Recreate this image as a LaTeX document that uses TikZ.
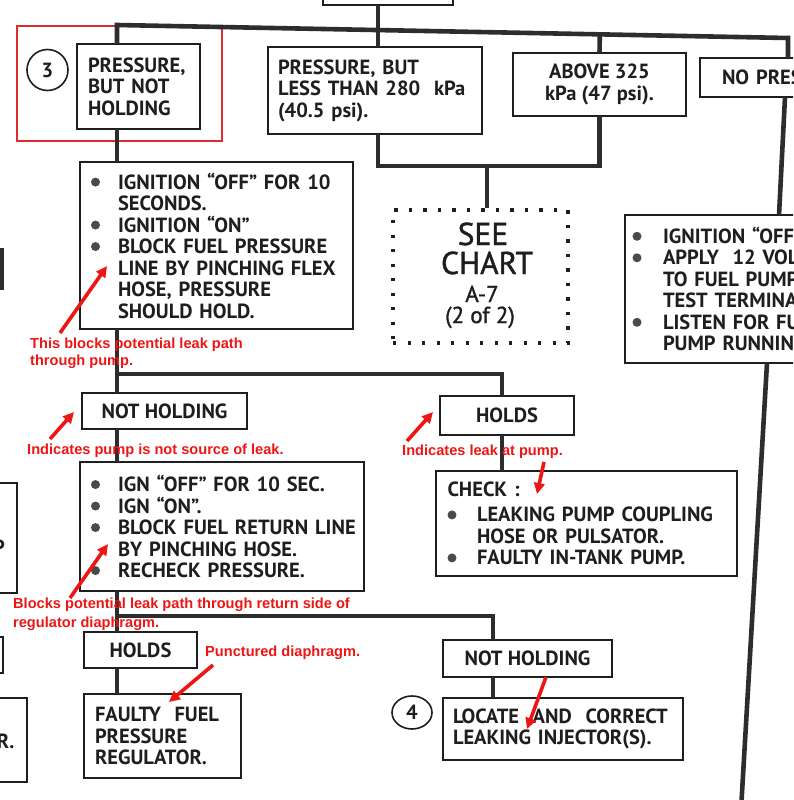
\documentclass[tikz,border=0pt]{standalone}
\usepackage{fontspec}
\setmainfont{PT Sans}
\newfontfamily\annfont{Liberation Sans}
\newfontfamily\medfont[FakeBold=1.3]{PT Sans}
\usetikzlibrary{arrows.meta,calc,shapes.geometric}
\definecolor{ink}{HTML}{1E1E1E}
\definecolor{wirec}{HTML}{2D2D2D}
\definecolor{annred}{HTML}{EE1515}
\definecolor{framered}{HTML}{DF2B30}
\definecolor{bulgray}{HTML}{4B4B4B}
\newcommand\bxfont{\bfseries\fontsize{20.5}{21.5}\selectfont}
\newcommand\bul[1][27pt]{\makebox[#1][l]{\tikz[baseline=-7pt]\fill[bulgray] (4.5pt,0pt) circle[radius=4.5pt];}}
\newcommand\ind[1][27pt]{\hspace*{#1}}
\tikzset{
  box/.style={draw=ink, line width=1.8pt, fill=white, inner ysep=0pt, outer sep=0pt, align=left, font=\bxfont, text=ink},
  cbox/.style={box, align=center, inner xsep=0pt},
  dotbox/.style={draw=ink, line width=3.2pt, dash pattern=on 3.2pt off 11.3pt, inner sep=0pt},
  seefont/.style={text=ink, inner sep=0pt, anchor=base},
  wire/.style={draw=wirec, line width=4.6pt},
  numc/.style={draw=ink, line width=1.6pt, font=\bxfont, text=ink, inner sep=0pt},
  ann/.style={text=annred, font=\annfont\bfseries\fontsize{14.6}{17}\selectfont, inner sep=0pt, anchor=base west},
  redarrow/.style={draw=annred, line width=3.6pt, -{Triangle[length=11pt,width=10.5pt]}},
  hilite/.style={draw=framered, line width=2.6pt, inner sep=0pt}
}
\begin{document}
\begin{tikzpicture}[x=1pt,y=-1pt]
\useasboundingbox (0,0) rectangle (793,800);
\fill[white] (0,0) rectangle (793,800);
\clip (0,0) rectangle (793,800);

% ---------- boxes ----------
\node[box, inner xsep=0pt, minimum width=130pt, minimum height=45pt] (topbox) at (388,-17.5) {};
\node[hilite, minimum width=205pt, minimum height=115pt] (hl) at (119.5,83.5) {};
\node[numc, circle, minimum size=41pt] (c3) at (47.5,70) {3};
\node[box, inner xsep=11pt, text width=101pt, minimum height=85pt] (pnh) at (138.5,86.5) {PRESSURE,\\BUT NOT\\HOLDING};
\node[box, inner xsep=10pt, text width=194pt, minimum height=87pt] (plt) at (375,90.5) {PRESSURE, BUT\\LESS THAN 280\ \ kPa\\(40.5 psi).};
\node[cbox, minimum width=173pt, minimum height=63pt] (above) at (599.5,84.5) {ABOVE 325\\kPa (47 psi).};
\node[box, inner xsep=22pt, text width=156pt, minimum height=39pt] (nopress) at (800,77.5) {NO PRESSURE};

\node[box, inner xsep=11pt, text width=251pt, minimum height=167pt] (ign1) at (216.5,245.5) {%
\bul IGNITION “OFF” FOR 10\\%
\ind SECONDS.\\%
\bul IGNITION “ON”\\%
\bul BLOCK FUEL PRESSURE\\%
\ind LINE BY PINCHING FLEX\\%
\ind HOSE, PRESSURE\\%
\ind SHOULD HOLD.};

\node[dotbox, minimum width=175pt, minimum height=133pt] (see) at (480.5,276.5) {};
\node[seefont, font=\medfont\fontsize{31.5}{31.5}\selectfont] (s1) at (483,245) {SEE};
\node[seefont, font=\medfont\fontsize{31.5}{31.5}\selectfont] (s2) at (487,274) {CHART};
\node[seefont, font=\medfont\fontsize{23}{23}\selectfont] (s3) at (482,302) {A-7};
\node[seefont, font=\medfont\fontsize{23}{23}\selectfont] (s4) at (480,323) {(2 of 2)};

\node[box, inner xsep=7.5pt, text width=285pt, minimum height=148pt] (rbox) at (775,289) {%
\bul[30.5pt]IGNITION “OFF”.\\%
\bul[30.5pt]APPLY\ \ 12 VOLTS\\%
\ind[30.5pt]TO FUEL PUMP\\%
\ind[30.5pt]TEST TERMINAL.\\%
\bul[30.5pt]LISTEN FOR FUEL\\%
\ind[30.5pt]PUMP RUNNING.};

\node[cbox, minimum width=165pt, minimum height=36pt] (nh1) at (164.5,411) {NOT HOLDING};
\node[cbox, minimum width=134pt, minimum height=39pt] (holds1) at (507,415.5) {HOLDS};

\node[box, inner xsep=11pt, text width=262pt, minimum height=129pt] (ign2) at (222,526.5) {%
\bul IGN “OFF” FOR 10 SEC.\\%
\bul IGN “ON”.\\%
\bul\mbox{BLOCK\hspace{7pt}FUEL RETURN LINE}\\%
\ind BY PINCHING HOSE.\\%
\bul RECHECK PRESSURE.};

\node[box, inner xsep=11.5pt, text width=278pt, minimum height=105pt] (check) at (586.5,523.5) {%
CHECK :\\[4pt]%
\bul[29.5pt]LEAKING PUMP COUPLING\\%
\ind[29.5pt]HOSE OR PULSATOR.\\%
\bul[29.5pt]FAULTY IN-TANK PUMP.};

\node[cbox, minimum width=113pt, minimum height=36pt] (holds2) at (140.5,650) {HOLDS};
\node[box, inner xsep=11pt, text width=135pt, minimum height=84pt] (faulty) at (162.5,736) {FAULTY\ \ FUEL\\PRESSURE\\REGULATOR.};
\node[cbox, minimum width=169pt, minimum height=37pt] (nh2) at (527.5,658.5) {NOT HOLDING};
\node[numc, ellipse, minimum width=40pt, minimum height=33pt] (c4) at (412,712.5) {4};
\node[box, inner xsep=10pt, text width=220pt, minimum height=62pt] (locate) at (563,729) {LOCATE\ \ AND\ \ CORRECT\\LEAKING INJECTOR(S).};

% partial boxes at the left edge
\node[box, minimum width=217pt, minimum height=110pt] (lb2) at (-91.5,538) {};
\node[box, minimum width=200pt, minimum height=36pt] (lb3) at (-97,655) {};
\node[box, minimum width=200pt, minimum height=84pt] (lb4) at (-73,740) {};
\node[font=\bxfont, text=ink, inner sep=0pt, anchor=base west] (lb2t) at (-7,554) {P};
\node[font=\bxfont, text=ink, inner sep=0pt, anchor=base east] (lb4t) at (14.5,748) {R.};

% ---------- connectors ----------
\coordinate (tbx) at (378,5);
\coordinate (busL) at (117,25);
\coordinate (busR) at (788,38);
\coordinate (xL) at (117,0);
\coordinate (hj) at (487,166);
\coordinate (b2) at (117,374);
\coordinate (b2r) at (502,374);
\coordinate (b3) at (117,616);
\coordinate (b3r) at (493,616);
\coordinate (r1) at (785,0);
\coordinate (r2) at (779,0);
\coordinate (r3) at (767,0);
\coordinate (rend) at (741,810);
\coordinate (lm1) at (1.5,248);
\coordinate (lm2) at (1.5,290);

\draw[wire] (tbx) -- (tbx |- plt.north);
\draw[wire] (pnh.north -| busL) -- (busL) -- (busR) -- (busR |- nopress.north);
\draw[wire] ($(busL)!(above.north)!(busR)$) -- (above.north);
\draw[wire] (tbx |- plt.south) |- (hj) -| (above.south);
\draw[wire] (hj) -- (hj |- see.north);
\draw[wire] (pnh.south -| xL) -- (ign1.north -| xL);
\draw[wire] (ign1.south -| xL) -- (nh1.north -| xL);
\draw[wire] (b2) -- (b2r) -- (b2r |- holds1.north);
\draw[wire] (holds1.south -| b2r) -- (check.north -| b2r);
\draw[wire] (nh1.south -| xL) -- (ign2.north -| xL);
\draw[wire] (ign2.south -| xL) -- (holds2.north -| xL);
\draw[wire] (b3) -- (b3r) -- (b3r |- nh2.north);
\draw[wire] (nh2.south -| b3r) -- (locate.north -| b3r);
\draw[wire] (holds2.south -| xL) -- (faulty.north -| xL);
\draw[wire] (nopress.south -| r1) -- (rbox.north -| r2);
\draw[wire] (rbox.south -| r3) -- (rend);
\draw[wire, line width=4pt] (lm1) -- (lm2);

% ---------- red annotations ----------
\node[ann] (t1) at (30,348) {This blocks potential leak path};
\node[ann] (t1b) at (30,365) {through pump.};
\node[ann] (t2) at (27,454) {Indicates pump is not source of leak.};
\node[ann] (t3) at (402,455) {Indicates leak at pump.};
\node[ann] (t4) at (13,608) {Blocks potential leak path through return side of};
\node[ann] (t4b) at (13,627) {regulator diaphragm.};
\node[ann] (t5) at (205,656) {Punctured diaphragm.};

\coordinate (a1s) at (60,333); \coordinate (a1e) at (107,266);
\coordinate (a2s) at (50,439); \coordinate (a2e) at (74,412);
\coordinate (a3s) at (407,441); \coordinate (a3e) at (433,412);
\coordinate (a4s) at (544,462); \coordinate (a4e) at (537,494);
\coordinate (a5s) at (70,598); \coordinate (a5e) at (108,544);
\coordinate (a6s) at (213,665); \coordinate (a6e) at (169,702);
\coordinate (a7s) at (546,677); \coordinate (a7e) at (527,729);
\draw[redarrow] (a1s) -- (a1e);
\draw[redarrow] (a2s) -- (a2e);
\draw[redarrow] (a3s) -- (a3e);
\draw[redarrow] (a4s) -- (a4e);
\draw[redarrow] (a5s) -- (a5e);
\draw[redarrow] (a6s) -- (a6e);
\draw[redarrow] (a7s) -- (a7e);
\end{tikzpicture}
\end{document}
